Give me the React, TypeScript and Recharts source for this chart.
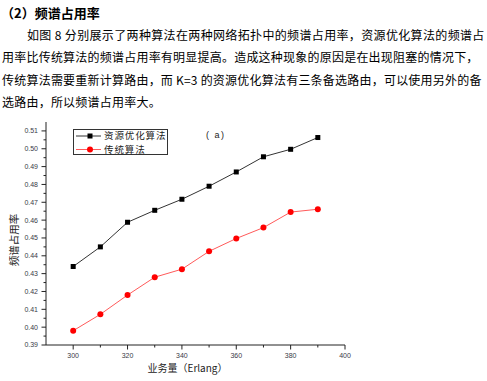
import React from 'react';
import { LineChart, Line, XAxis, YAxis } from 'recharts';

const categories = [300, 310, 320, 330, 340, 350, 360, 370, 380, 390];
const resourceOpt = [0.434, 0.445, 0.4588, 0.4655, 0.4717, 0.479, 0.487, 0.4955, 0.4997, 0.5063];
const traditional = [0.398, 0.4072, 0.418, 0.428, 0.4325, 0.4425, 0.4497, 0.4558, 0.4645, 0.4661];

const xTicks = [300, 310, 320, 330, 340, 350, 360, 370, 380, 390, 400];
const xLabeled = [300, 320, 340, 360, 380, 400];
const yTicks = [0.39, 0.395, 0.4, 0.405, 0.41, 0.415, 0.42, 0.425, 0.43, 0.435, 0.44, 0.445, 0.45, 0.455, 0.46, 0.465, 0.47, 0.475, 0.48, 0.485, 0.49, 0.495, 0.5, 0.505, 0.51];
const yLabeled = [0.39, 0.4, 0.41, 0.42, 0.43, 0.44, 0.45, 0.46, 0.47, 0.48, 0.49, 0.5, 0.51];

const seriesNames = ['资源优化算法', '传统算法'];

const data = categories.map((x, i) => ({ x, a: resourceOpt[i], b: traditional[i] }));

const paraLines = [
  '如图 8 分别展示了两种算法在两种网络拓扑中的频谱占用率，资源优化算法的频谱占',
  '用率比传统算法的频谱占用率有明显提高。造成这种现象的原因是在出现阻塞的情况下，',
  '传统算法需要重新计算路由，而 K=3 的资源优化算法有三条备选路由，可以使用另外的备',
  '选路由，所以频谱占用率大。',
];

const TICK_SIZE = 4;
const TICK_MARGIN = 4;
const tickColor = '#3a3a48';

const isLabeled = (list: number[], v: number) => list.some((t) => Math.abs(t - v) < 1e-6);

const YTick = (props: any) => {
  const { x, y, payload } = props;
  const axisX = x + TICK_SIZE + TICK_MARGIN;
  const major = isLabeled(yLabeled, payload.value);
  return (
    <g>
      <line x1={axisX} x2={axisX - (major ? 4.5 : 2.5)} y1={y} y2={y} stroke="#222" strokeWidth={1} />
      {major && (
        <text x={x} y={y} dy="0.355em" textAnchor="end" fontSize={7} fill={tickColor} fontFamily="Liberation Sans, Arial, sans-serif">
          {payload.value.toFixed(2)}
        </text>
      )}
    </g>
  );
};

const XTick = (props: any) => {
  const { x, y, payload } = props;
  const axisY = y - TICK_SIZE - TICK_MARGIN;
  const major = isLabeled(xLabeled, payload.value);
  return (
    <g>
      <line x1={x} x2={x} y1={axisY} y2={axisY + (major ? 4.5 : 2.5)} stroke="#222" strokeWidth={1} />
      {major && (
        <text x={x} y={y} dy="0.71em" textAnchor="middle" fontSize={7} fill={tickColor} fontFamily="Liberation Sans, Arial, sans-serif">
          {payload.value}
        </text>
      )}
    </g>
  );
};

const SquareDot = (props: any) => {
  const { cx, cy } = props;
  if (cx == null || cy == null) return null;
  return <rect x={cx - 2.5} y={cy - 2.5} width={5} height={5} fill="#000" />;
};

const RoundDot = (props: any) => {
  const { cx, cy } = props;
  if (cx == null || cy == null) return null;
  return <circle cx={cx} cy={cy} r={3} fill="#ff0000" />;
};

const LegendBox = () => (
  <div
    style={{
      position: 'absolute',
      left: 73,
      top: 129,
      width: 95,
      height: 26,
      border: '1px solid #333',
      background: '#fff',
      boxSizing: 'border-box',
      fontFamily: '"Noto Sans CJK SC", sans-serif',
    }}
  >
    <svg width={95} height={26} style={{ position: 'absolute', left: -1, top: -1 }}>
      <line x1={3} x2={28} y1={7} y2={7} stroke="#333" strokeWidth={1} />
      <rect x={14.5} y={4.5} width={5} height={5} fill="#000" />
      <line x1={3} x2={28} y1={20.5} y2={20.5} stroke="#ff5a5a" strokeWidth={1} />
      <circle cx={17} cy={20.5} r={3} fill="#ff0000" />
      <text x={31} y={7} dy="0.36em" fontSize={9.5} letterSpacing={0.9} fill="#222">{seriesNames[0]}</text>
      <text x={31} y={20.5} dy="0.36em" fontSize={9.5} letterSpacing={0.9} fill="#222">{seriesNames[1]}</text>
    </svg>
  </div>
);

const YLabel = () => (
  <text transform="translate(13,240) rotate(-90)" textAnchor="middle" dominantBaseline="central" fontSize={10.5} fill="#222" fontFamily='"Noto Sans CJK SC", sans-serif'>
    频谱占用率
  </text>
);

export default function App() {
  return (
    <div
      style={{
        position: 'absolute',
        left: 0,
        top: 0,
        width: 487,
        height: 381,
        background: '#fff',
        overflow: 'hidden',
        fontFamily: '"Noto Sans CJK SC", sans-serif',
        color: '#000',
      }}
    >
      <div style={{ position: 'absolute', left: 1, top: 3, fontSize: 13, fontWeight: 'bold', lineHeight: '20px', whiteSpace: 'nowrap' }}>
        （2）频谱占用率
      </div>
      {paraLines.map((t, i) => (
        <div
          key={i}
          style={{
            position: 'absolute',
            left: i === 0 ? 27 : 2,
            top: 24 + i * 22.4,
            fontSize: 12,
            letterSpacing: i === 0 ? 0.35 : 0.22,
            lineHeight: '22px',
            whiteSpace: 'nowrap',
          }}
        >
          {t}
        </div>
      ))}
      <div style={{ position: 'absolute', left: 0, top: 0 }}>
        <LineChart width={487} height={381} data={data} margin={{ top: 122, right: 142, bottom: 0, left: 0 }}>
          <XAxis
            type="number"
            dataKey="x"
            domain={[290, 400]}
            ticks={xTicks}
            interval={0}
            tickSize={TICK_SIZE}
            tickMargin={TICK_MARGIN}
            tickLine={false}
            tick={<XTick />}
            axisLine={{ stroke: '#222', strokeWidth: 1 }}
            height={36}
            label={{
              value: '业务量（Erlang）',
              position: 'insideBottom',
              offset: 9,
              fontSize: 10,
              fill: '#222',
              dx: -8,
            }}
          />
          <YAxis
            type="number"
            domain={[0.39, 0.515]}
            ticks={yTicks}
            interval={0}
            width={46}
            tickSize={TICK_SIZE}
            tickMargin={TICK_MARGIN}
            tickLine={false}
            tick={<YTick />}
            axisLine={{ stroke: '#222', strokeWidth: 1 }}
            label={<YLabel />}
          />
          <Line
            dataKey="a"
            name={seriesNames[0]}
            stroke="#333"
            strokeWidth={1}
            dot={<SquareDot />}
            isAnimationActive={false}
          />
          <Line
            dataKey="b"
            name={seriesNames[1]}
            stroke="#ff5a5a"
            strokeWidth={1}
            dot={<RoundDot />}
            isAnimationActive={false}
          />
        </LineChart>
      </div>
      <LegendBox />
      <div style={{ position: 'absolute', left: 206, top: 130, fontSize: 9, letterSpacing: 1.5, color: '#222', whiteSpace: 'nowrap', fontFamily: 'Liberation Sans, Arial, sans-serif' }}>
        ( a)
      </div>
    </div>
  );
}
